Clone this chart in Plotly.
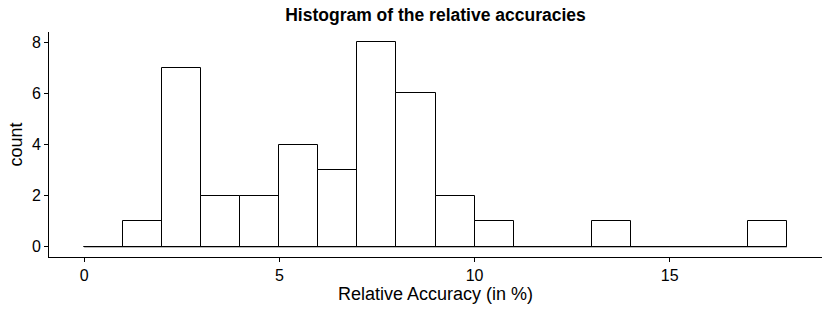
import plotly.graph_objects as go

bin_starts = list(range(0, 18))
counts = [0, 1, 7, 2, 2, 4, 3, 8, 6, 2, 1, 0, 0, 1, 0, 0, 0, 1]
bin_width = 1
x_ticks = [0, 5, 10, 15]
y_ticks = [0, 2, 4, 6, 8]

centers = [s + bin_width / 2 for s in bin_starts]
edges_min = bin_starts[0]
edges_max = bin_starts[-1] + bin_width

fig = go.Figure()
# baseline for zero-height bins (as ggplot draws them)
fig.add_trace(go.Scatter(x=[edges_min, edges_max], y=[0, 0], mode="lines",
                         line=dict(color="black", width=1), hoverinfo="skip",
                         showlegend=False))
fig.add_trace(go.Bar(x=centers, y=counts, width=bin_width,
                     marker=dict(color="white", line=dict(color="black", width=1)),
                     showlegend=False))

font = "Liberation Sans, Arial, sans-serif"
fig.update_layout(
    width=831, height=312,
    margin=dict(l=49, r=9, t=32, b=55),
    plot_bgcolor="white", paper_bgcolor="white",
    bargap=0,
    font=dict(family=font, color="black", size=16),
    title=dict(text="<b>Histogram of the relative accuracies</b>", x=0.5, xref="paper",
               y=1 - 15 / 312, yref="container", yanchor="middle",
               font=dict(size=17.5, family=font, color="black")),
    xaxis=dict(range=[-0.9, 18.9], tickvals=x_ticks, showgrid=False, zeroline=False,
               showline=True, linecolor="black", linewidth=1, ticks="outside",
               ticklen=4, tickcolor="black", tickfont=dict(size=16, color="black"),
               automargin=False,
               title=dict(text="Relative Accuracy (in %)", font=dict(size=18), standoff=4)),
    yaxis=dict(range=[-0.4, 8.4], tickvals=y_ticks, showgrid=False, zeroline=False,
               showline=True, linecolor="black", linewidth=1, ticks="outside",
               ticklen=4, tickcolor="black", tickfont=dict(size=16, color="black"),
               automargin=False,
               title=dict(text="count", font=dict(size=18), standoff=4)),
)
fig.write_html("out.html", config={"displayModeBar": False},
               post_script="document.body.style.margin='0';document.body.style.overflow='hidden';")
